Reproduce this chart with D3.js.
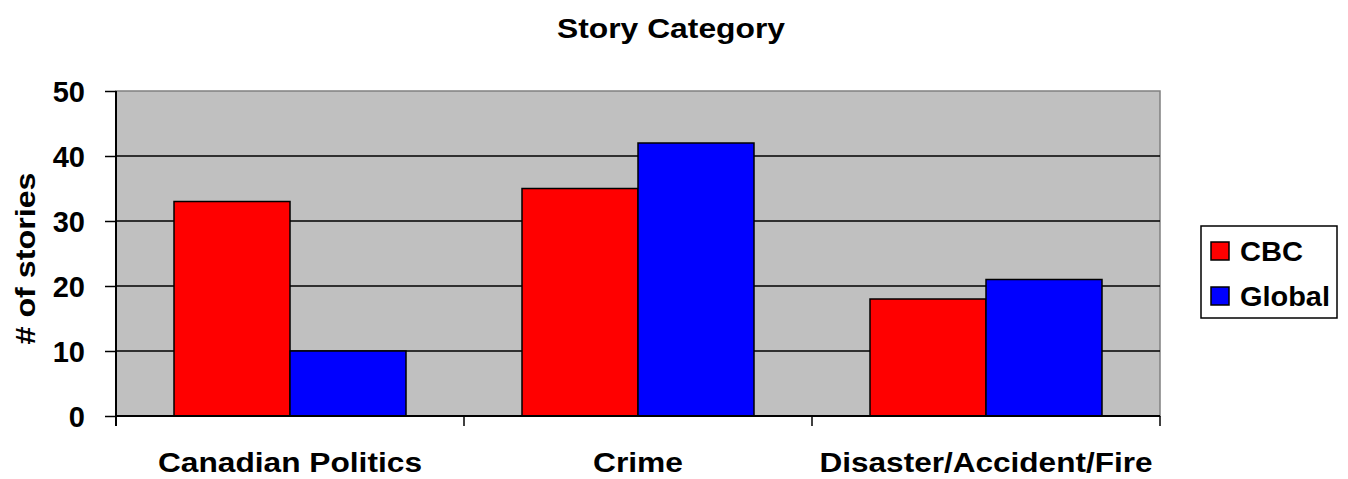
<!DOCTYPE html>
<html>
<head>
<meta charset="utf-8">
<script src="https://cdn.jsdelivr.net/npm/d3@7"></script>
<style>
  body { margin: 0; background: #fff; }
  text { font-family: "Liberation Sans", Arial, sans-serif; font-weight: bold; fill: #000; }
</style>
</head>
<body>
<svg id="chart"></svg>
<script>
// chart values
var categories = ['Canadian Politics', 'Crime', 'Disaster/Accident/Fire'];
var seriesNames = ['CBC', 'Global'];
var cbcValues = [33, 35, 18];
var globalValues = [10, 42, 21];
var yTicks = [0, 10, 20, 30, 40, 50];
var seriesColors = ['#ff0000', '#0000ff'];

var canvasWidth = 1348;
var canvasHeight = 479;
var margin = { top: 91, right: 188, bottom: 63, left: 116 };
var width = canvasWidth - margin.left - margin.right;
var height = canvasHeight - margin.top - margin.bottom;

var svg = d3.select('#chart')
    .attr('width', canvasWidth)
    .attr('height', canvasHeight);

var g = svg.append('g')
    .attr('transform', 'translate(' + margin.left + ',' + margin.top + ')');

var x0 = d3.scaleBand().domain(categories).range([0, width]);
var x1 = d3.scaleBand().domain(seriesNames).range([0, x0.bandwidth()]).paddingOuter(0.5);
var y = d3.scaleLinear().domain([0, 50]).range([height, 0]);

// plot background
g.append('rect')
    .attr('width', width)
    .attr('height', height)
    .attr('fill', '#c0c0c0')
    .attr('stroke', '#808080')
    .attr('stroke-width', 1.5);

// gridlines
g.selectAll('.grid')
    .data(yTicks.filter(function(d) { return d > 0 && d < 50; }))
    .enter()
    .append('line')
    .attr('x1', 0)
    .attr('x2', width)
    .attr('y1', function(d) { return y(d); })
    .attr('y2', function(d) { return y(d); })
    .attr('stroke', '#000')
    .attr('stroke-width', 1.5);

// bars
var rows = categories.map(function(c, i) {
    return { category: c, values: [cbcValues[i], globalValues[i]] };
});

var groups = g.selectAll('.cat')
    .data(rows)
    .enter()
    .append('g')
    .attr('transform', function(d) { return 'translate(' + x0(d.category) + ',0)'; });

groups.selectAll('rect')
    .data(function(d) {
        return d.values.map(function(v, i) { return { name: seriesNames[i], value: v, color: seriesColors[i] }; });
    })
    .enter()
    .append('rect')
    .attr('x', function(d) { return x1(d.name); })
    .attr('y', function(d) { return y(d.value); })
    .attr('width', x1.bandwidth())
    .attr('height', function(d) { return height - y(d.value); })
    .attr('fill', function(d) { return d.color; })
    .attr('stroke', '#000')
    .attr('stroke-width', 1.5);

// y axis
var yAxis = g.append('g')
    .call(d3.axisLeft(y).tickValues(yTicks).tickSize(11).tickPadding(20));
yAxis.select('.domain').remove();
yAxis.selectAll('.tick line').attr('stroke', '#000').attr('stroke-width', 1.5);
yAxis.selectAll('.tick text')
    .attr('font-size', 29)
    .attr('font-family', null)
    .attr('dy', '0.36em');

g.append('line')
    .attr('x1', 0).attr('x2', 0)
    .attr('y1', 0).attr('y2', height + 10)
    .attr('stroke', '#000')
    .attr('stroke-width', 2);

// x axis
var bounds = categories.map(function(c) { return x0(c); }).concat([width]);
g.append('line')
    .attr('x1', 0).attr('x2', width)
    .attr('y1', height).attr('y2', height)
    .attr('stroke', '#000')
    .attr('stroke-width', 2);
g.selectAll('.xtick')
    .data(bounds)
    .enter()
    .append('line')
    .attr('x1', function(d) { return d; })
    .attr('x2', function(d) { return d; })
    .attr('y1', height)
    .attr('y2', height + 10)
    .attr('stroke', '#000')
    .attr('stroke-width', 1.5);

var catWidths = [264, 90, 333];
g.selectAll('.xlabel')
    .data(categories)
    .enter()
    .append('text')
    .attr('x', function(d) { return x0(d) + x0.bandwidth() / 2; })
    .attr('y', height + 56)
    .attr('text-anchor', 'middle')
    .attr('font-size', 27)
    .attr('textLength', function(d, i) { return catWidths[i]; })
    .attr('lengthAdjust', 'spacingAndGlyphs')
    .text(function(d) { return d; });

// y label
svg.append('text')
    .attr('transform', 'translate(35,' + (margin.top + height / 2 + 5) + ') rotate(-90)')
    .attr('text-anchor', 'middle')
    .attr('font-size', 28)
    .attr('textLength', 172)
    .attr('lengthAdjust', 'spacingAndGlyphs')
    .text('# of stories');

// title
svg.append('text')
    .attr('x', 671)
    .attr('y', 38)
    .attr('text-anchor', 'middle')
    .attr('font-size', 28)
    .attr('textLength', 228)
    .attr('lengthAdjust', 'spacingAndGlyphs')
    .text('Story Category');

// legend
var legend = svg.append('g').attr('transform', 'translate(1201,226)');
legend.append('rect')
    .attr('width', 136)
    .attr('height', 92)
    .attr('fill', '#fff')
    .attr('stroke', '#000')
    .attr('stroke-width', 1.5);

var legendWidths = [63, 90];
var items = legend.selectAll('.item')
    .data(seriesNames)
    .enter()
    .append('g')
    .attr('transform', function(d, i) { return 'translate(10,' + (16 + i * 45) + ')'; });
items.append('rect')
    .attr('width', 18)
    .attr('height', 18)
    .attr('fill', function(d, i) { return seriesColors[i]; })
    .attr('stroke', '#000')
    .attr('stroke-width', 1.5);
items.append('text')
    .attr('x', 29)
    .attr('y', 19)
    .attr('font-size', 27)
    .attr('textLength', function(d, i) { return legendWidths[i]; })
    .attr('lengthAdjust', 'spacingAndGlyphs')
    .text(function(d) { return d; });
</script>
</body>
</html>
